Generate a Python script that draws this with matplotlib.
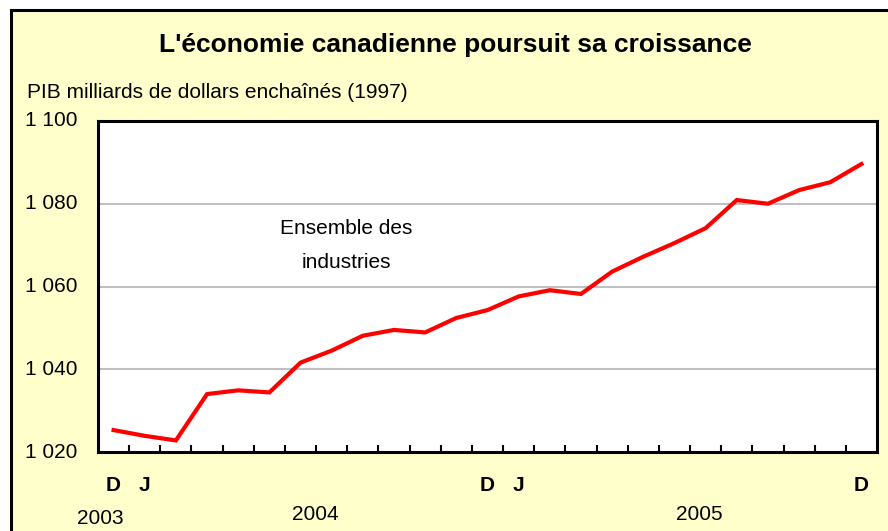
import matplotlib
matplotlib.use("Agg")
import matplotlib.pyplot as plt
from matplotlib.patches import Rectangle

plt.rcParams['font.family'] = ['Liberation Sans', 'DejaVu Sans']

values = [1025.3, 1023.9, 1022.8, 1034.0, 1034.9, 1034.4, 1041.6, 1044.5, 1048.1,
          1049.5, 1048.9, 1052.4, 1054.3, 1057.6, 1059.1, 1058.2, 1063.6, 1067.2,
          1070.5, 1074.1, 1080.9, 1080.0, 1083.3, 1085.2, 1089.6]
month_labels = {0: "D", 1: "J", 12: "D", 13: "J", 24: "D"}
year_labels = [("2003", -0.44, -0.2), ("2004", 6.46, -0.19), ("2005", 18.8, -0.19)]
yticks = [1020, 1040, 1060, 1080, 1100]
ytick_labels = ["1 020", "1 040", "1 060", "1 080", "1 100"]
title = "L'économie canadienne poursuit sa croissance"
ylabel = "PIB milliards de dollars enchaînés (1997)"
annotation_lines = ["Ensemble des", "industries"]

W, H = 888, 531
fig = plt.figure(figsize=(W / 100, H / 100), dpi=100)
fig.patch.set_facecolor("white")

bg = Rectangle((11 / W, -0.1), 1.2, 1.1 - 10 / H, transform=fig.transFigure,
               facecolor="#FFFFCC", edgecolor="black", linewidth=2.2, zorder=-5)
fig.patches.append(bg)

ax = fig.add_axes([98 / W, 1 - 452 / H, (877 - 98) / W, (452 - 121) / H])
ax.set_zorder(5)
ax.set_facecolor("white")

x = list(range(len(values)))
ax.plot(x, values, color="#FF0000", linewidth=3.0, solid_joinstyle="miter", zorder=3)

ax.set_xlim(-0.5, len(values) - 0.5)
ax.set_ylim(1020, 1100)
ax.set_yticks(yticks)
ax.set_yticklabels([])
for v in yticks[1:-1]:
    ax.axhline(v, color="#C0C0C0", linewidth=1.5, zorder=1)

ax.set_xticks([i + 0.5 for i in range(len(values) - 1)])
ax.set_xticklabels([])
ax.tick_params(axis="x", direction="in", length=5, width=1.5, color="black")
ax.tick_params(axis="y", length=0)

for s in ax.spines.values():
    s.set_linewidth(2.2)
    s.set_color("black")

# y tick labels
for v, lab in zip(yticks, ytick_labels):
    ax.text(-0.026, v, lab, transform=ax.get_yaxis_transform(), ha="right",
            va="center", fontsize=15, clip_on=False)

# month labels
for i, lab in month_labels.items():
    ax.text(i, -0.1, lab, transform=ax.get_xaxis_transform(), ha="center",
            va="center", fontsize=15, fontweight="bold", clip_on=False)

for lab, xp, yp in year_labels:
    ax.text(xp, yp, lab, transform=ax.get_xaxis_transform(), ha="center",
            va="center", fontsize=15, clip_on=False)

ax.text(7.46, 1074.0, annotation_lines[0], ha="center", va="center", fontsize=15)
ax.text(7.46, 1065.7, annotation_lines[1], ha="center", va="center", fontsize=15)

fig.text(455 / W, 1 - 45 / H, title, ha="center", va="center", fontsize=19,
         fontweight="bold")
fig.text(27 / W, 1 - 93 / H, ylabel, ha="left", va="center", fontsize=15)

fig.savefig("out.png", dpi=100, facecolor=fig.get_facecolor())
